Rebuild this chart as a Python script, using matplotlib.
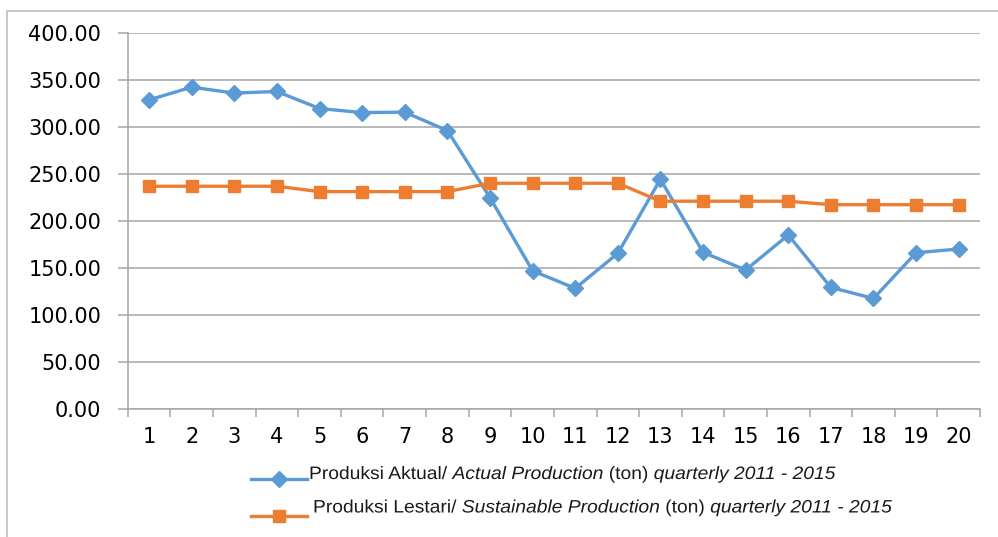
import matplotlib
matplotlib.use("Agg")
import numpy as np
from matplotlib import pyplot as plt
from matplotlib.lines import Line2D
from matplotlib.patches import Rectangle, PathPatch
from matplotlib.textpath import TextPath, TextToPath
from matplotlib.font_manager import FontProperties
from matplotlib.transforms import Affine2D

quarters = list(range(1, 21))
actual = [328.7, 342.2, 335.9, 337.6, 319.5, 315.2, 315.6, 296.1, 224.8, 147.1,
          128.4, 165.6, 244.3, 166.7, 147.9, 185.1, 129.4, 117.7, 166.3, 170.2]
sustainable = [236.9, 236.9, 236.9, 236.9, 231.2, 231.2, 231.2, 231.2, 240.1, 240.1,
               240.1, 240.1, 221.0, 221.0, 221.0, 221.0, 217.3, 217.3, 217.3, 217.3]
yticks = [0, 50, 100, 150, 200, 250, 300, 350, 400]

blue = '#5B9BD5'
orange = '#ED7D31'
grid = '#A6A6A6'

W, H = 998, 537
fig = plt.figure(figsize=(W / 100, H / 100), dpi=100)
fig.add_artist(Rectangle((0.007, -0.1), 1.1, 1.08, transform=fig.transFigure,
                         fill=False, edgecolor='#BFBFBF', lw=1.2))
ax = fig.add_axes([0.128, 0.238, 0.854, 0.701])

x = np.array(quarters)
ax.plot(x, actual, color=blue, lw=2.4, marker='D', ms=8.5, zorder=3)
ax.plot(x, sustainable, color=orange, lw=2.4, marker='s', ms=9, zorder=3)

ax.set_xlim(0.5, 20.5)
ax.set_ylim(0, 400)
ax.set_yticks(yticks)
ax.set_yticklabels(['%.2f' % v for v in yticks])
ax.yaxis.grid(True, color=grid, lw=1.1)
ax.set_axisbelow(True)

ax.set_xticks(x)
ax.set_xticklabels([str(q) for q in quarters])
ax.set_xticks(np.arange(0.5, 21, 1), minor=True)
ax.tick_params(axis='x', which='major', length=0, pad=13, labelsize=15)
ax.tick_params(axis='x', which='minor', length=6, color=grid, width=1.1)
ax.tick_params(axis='y', length=7, color=grid, width=1.1, pad=12, labelsize=15)

for side in ['top', 'right']:
    ax.spines[side].set_visible(False)
for side in ['left', 'bottom']:
    ax.spines[side].set_color(grid)
    ax.spines[side].set_linewidth(1.1)

# legend drawn by hand: stretched text with italic parts
font_size_px = 18
stretch = 1.07
ttp = TextToPath()
rows = [
    (blue, 'D', 8, 479, 309, 479,
     [('Produksi Aktual/ ', 'normal'), ('Actual Production', 'italic'),
      (' (ton) ', 'normal'), ('quarterly 2011 - 2015', 'italic')]),
    (orange, 's', 9, 515.5, 313, 512.5,
     [('Produksi Lestari/ ', 'normal'), ('Sustainable Production', 'italic'),
      (' (ton) ', 'normal'), ('quarterly 2011 - 2015', 'italic')]),
]
for color, mk, ms, yline, xtext, ybase, parts in rows:
    yl = 1 - yline / H
    fig.add_artist(Line2D([251 / W, 307 / W], [yl, yl], color=color, lw=2.4,
                          transform=fig.transFigure))
    fig.add_artist(Line2D([279 / W], [yl], color=color, marker=mk, ms=ms,
                          transform=fig.transFigure))
    xpx = xtext
    for txt, style in parts:
        prop = FontProperties(family='Liberation Sans', style=style, size=font_size_px)
        path = TextPath((0, 0), txt, prop=prop)
        tr = Affine2D().scale(stretch, 1).translate(xpx, H - ybase)
        fig.add_artist(PathPatch(path, transform=tr, facecolor='#1a1a1a', lw=0))
        w, _, _ = ttp.get_text_width_height_descent(txt, prop, ismath=False)
        xpx += w * stretch

fig.savefig('out.png', dpi=100)
